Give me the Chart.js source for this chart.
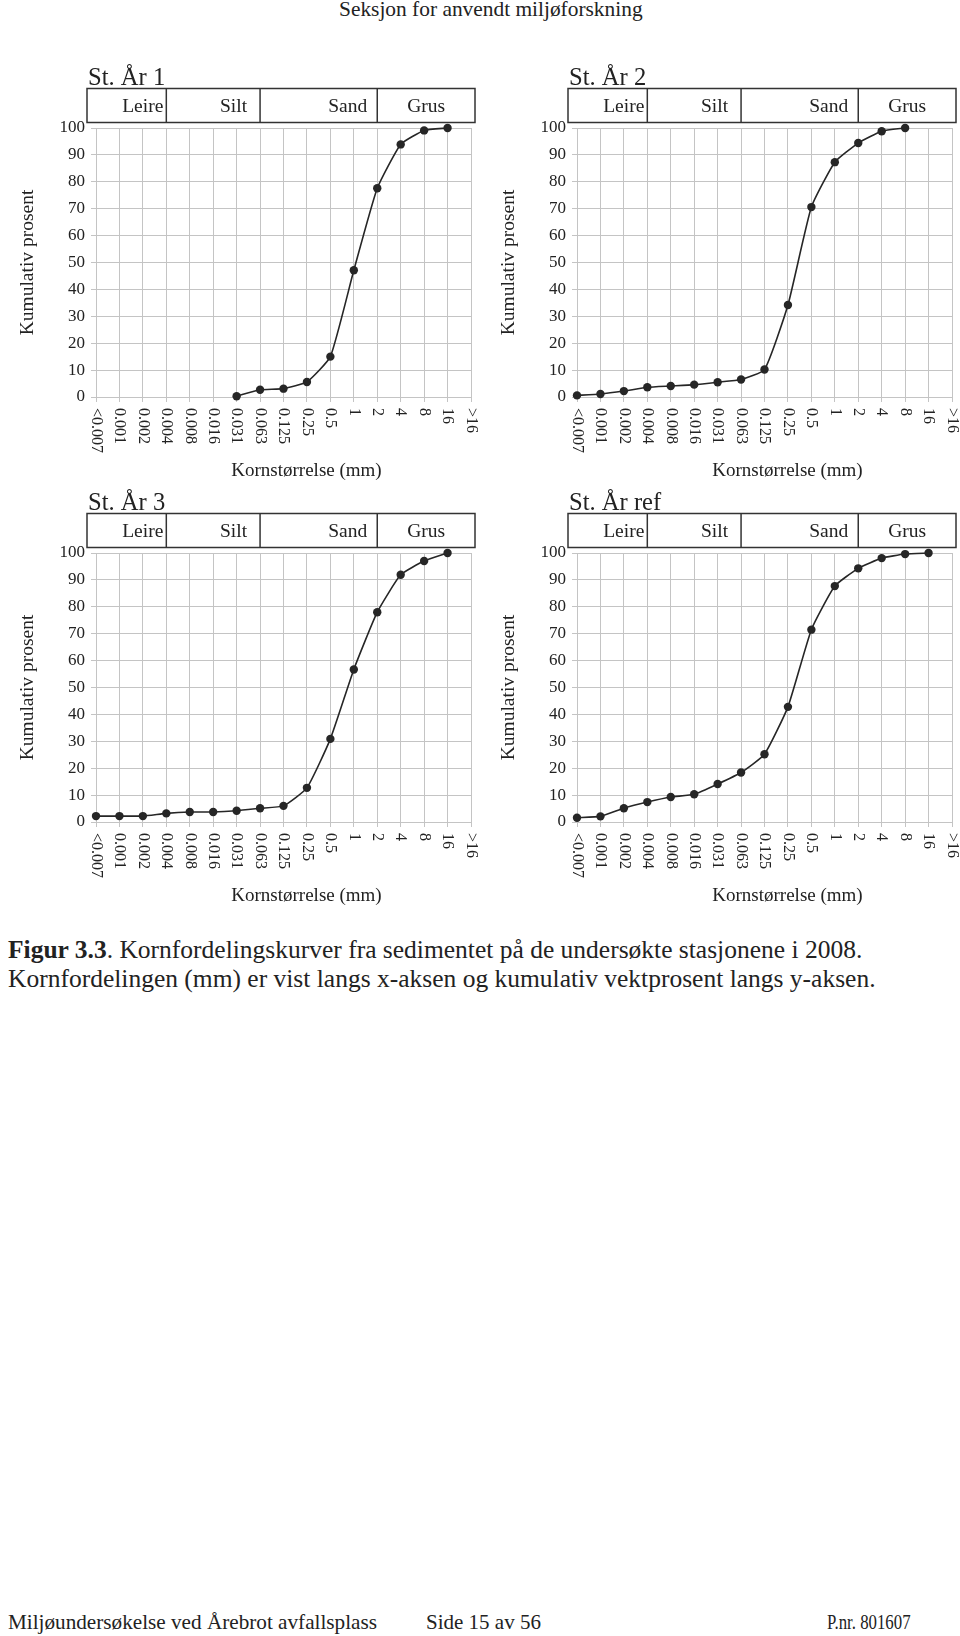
<!DOCTYPE html>
<html>
<head>
<meta charset="utf-8">
<script src="https://cdn.jsdelivr.net/npm/chart.js@4.4.1/dist/chart.umd.min.js"></script>
<style>
  body { margin: 0; background: #fff; width: 960px; height: 1636px; position: relative; font-family: "Liberation Serif", serif; color: #222; overflow: hidden; }
  .txt { position: absolute; white-space: nowrap; }
  canvas { position: absolute; }
</style>
</head>
<body>
<div class="txt" id="header" style="left:339px; top:-3px; font-size:21.4px;">Seksjon for anvendt miljøforskning</div>

<canvas id="c1" width="480" height="420" style="left:0; top:60px;"></canvas>
<canvas id="c2" width="480" height="420" style="left:481px; top:60px;"></canvas>
<canvas id="c3" width="480" height="420" style="left:0; top:485px;"></canvas>
<canvas id="c4" width="480" height="420" style="left:481px; top:485px;"></canvas>

<div class="txt" style="left:8px; top:935px; font-size:25.5px; line-height:29px;">
  <b>Figur 3.3</b>. Kornfordelingskurver fra sedimentet på de undersøkte stasjonene i 2008.<br>
  Kornfordelingen (mm) er vist langs x-aksen og kumulativ vektprosent langs y-aksen.
</div>

<div class="txt" style="left:8px; top:1610px; font-size:21.2px;">Miljøundersøkelse ved Årebrot avfallsplass</div>
<div class="txt" style="left:426px; top:1610px; font-size:21px;">Side 15 av 56</div>
<div class="txt" style="left:827px; top:1610px; font-size:21px; transform:scaleX(0.8); transform-origin:left;">P.nr. 801607</div>

<script>
// Grain size classes (mm)
const sizes = ['<0.007', '0.001', '0.002', '0.004', '0.008', '0.016', '0.031', '0.063', '0.125', '0.25', '0.5', '1', '2', '4', '8', '16', '>16'];

// Fraction bands and the class where each band ends
const bandNames = ['Leire', 'Silt', 'Sand', 'Grus'];
const bandEdges = ['0.004', '0.063', '2'];

// Cumulative percent per station
const st1 = [null, null, null, null, null, null, 0.3, 2.7, 3.1, 5.6, 15.0, 47.1, 77.6, 93.9, 99.1, 100, null];
const st2 = [0.6, 1.1, 2.2, 3.6, 4.1, 4.6, 5.5, 6.5, 10.2, 34.2, 70.6, 87.3, 94.4, 98.8, 100, null, null];
const st3 = [2.2, 2.2, 2.2, 3.2, 3.7, 3.7, 4.2, 5.1, 6.0, 12.7, 30.9, 56.7, 78.0, 91.9, 97.0, 100, null];
const stRef = [1.6, 2.1, 5.1, 7.4, 9.3, 10.3, 14.1, 18.4, 25.2, 42.8, 71.5, 87.7, 94.3, 98.1, 99.6, 100, null];

const yTicks = [0, 10, 20, 30, 40, 50, 60, 70, 80, 90, 100];

const serif = '"Liberation Serif", "Times New Roman", serif';
const ink = '#222';
const gridColor = '#c4c4c4';

// Title, band box, rotated x labels and x title
const bandPlugin = {
    id: 'bands',
    afterDraw(chart, args, opts) {
        const { ctx, chartArea: a, scales: { x } } = chart;
        ctx.save();
        ctx.fillStyle = ink;

        // station title
        ctx.font = '24.6px ' + serif;
        ctx.textAlign = 'left';
        ctx.textBaseline = 'alphabetic';
        ctx.fillText(opts.title, a.left - 8, a.top - 43.5);

        // band box
        const top = a.top - 39.5, bot = a.top - 5.5;
        const l = a.left - 9, r = a.right + 4;
        ctx.strokeStyle = '#333';
        ctx.lineWidth = 1.5;
        ctx.strokeRect(l, top, r - l, bot - top);
        const edges = bandEdges.map(e => x.getPixelForValue(sizes.indexOf(e)));
        edges.forEach(px => {
            ctx.beginPath();
            ctx.moveTo(px, top);
            ctx.lineTo(px, bot);
            ctx.stroke();
        });
        const cells = [l, ...edges, r];
        const pads = [3, 13, 10];
        ctx.font = '19.5px ' + serif;
        ctx.textBaseline = 'middle';
        const ym = (top + bot) / 2 + 1;
        bandNames.forEach((name, i) => {
            if (i === bandNames.length - 1) {
                ctx.textAlign = 'center';
                ctx.fillText(name, (cells[i] + cells[i + 1]) / 2, ym);
            } else {
                ctx.textAlign = 'right';
                ctx.fillText(name, cells[i + 1] - pads[i], ym);
            }
        });

        // x tick labels, turned clockwise
        ctx.font = '16px ' + serif;
        sizes.forEach((s, i) => {
            const px = x.getPixelForValue(i);
            ctx.save();
            ctx.translate(px, a.bottom + 11);
            ctx.rotate(Math.PI / 2);
            ctx.textAlign = 'left';
            ctx.textBaseline = 'middle';
            ctx.fillText(s, 0, 0);
            ctx.restore();
        });

        // x axis title
        ctx.font = '19px ' + serif;
        ctx.textAlign = 'center';
        ctx.textBaseline = 'middle';
        ctx.fillText('Kornstørrelse (mm)', (a.left + a.right) / 2 + 23, a.bottom + 74);
        ctx.restore();
    }
};

function makeChart(id, title, values) {
    new Chart(document.getElementById(id), {
        type: 'line',
        data: {
            labels: sizes,
            datasets: [{
                data: values,
                borderColor: '#262626',
                borderWidth: 1.6,
                tension: 0.15,
                pointRadius: 4.2,
                pointBackgroundColor: '#262626',
                pointBorderWidth: 0,
                spanGaps: false,
                clip: false
            }]
        },
        options: {
            responsive: false,
            animation: false,
            layout: { padding: { top: 68, right: 9, left: 0, bottom: 0 } },
            plugins: {
                legend: { display: false },
                tooltip: { enabled: false },
                bands: { title }
            },
            scales: {
                x: {
                    offset: false,
                    grid: { color: gridColor, tickLength: 5, lineWidth: 1 },
                    border: { color: gridColor },
                    ticks: { display: false },
                    afterFit: s => { s.height = 83; }
                },
                y: {
                    min: 0,
                    max: 100,
                    afterBuildTicks: s => { s.ticks = yTicks.map(v => ({ value: v })); },
                    grid: { color: gridColor, tickLength: 5, lineWidth: 1 },
                    border: { color: gridColor },
                    ticks: { color: ink, padding: 6, font: { family: serif, size: 17 } },
                    title: {
                        display: true,
                        text: 'Kumulativ prosent',
                        color: ink,
                        font: { family: serif, size: 19.5 },
                        padding: { top: 16.3, bottom: 0 }
                    },
                    afterFit: s => { s.width = 96; }
                }
            }
        },
        plugins: [bandPlugin]
    });
}

makeChart('c1', 'St. År 1', st1);
makeChart('c2', 'St. År 2', st2);
makeChart('c3', 'St. År 3', st3);
makeChart('c4', 'St. År ref', stRef);
</script>
</body>
</html>
